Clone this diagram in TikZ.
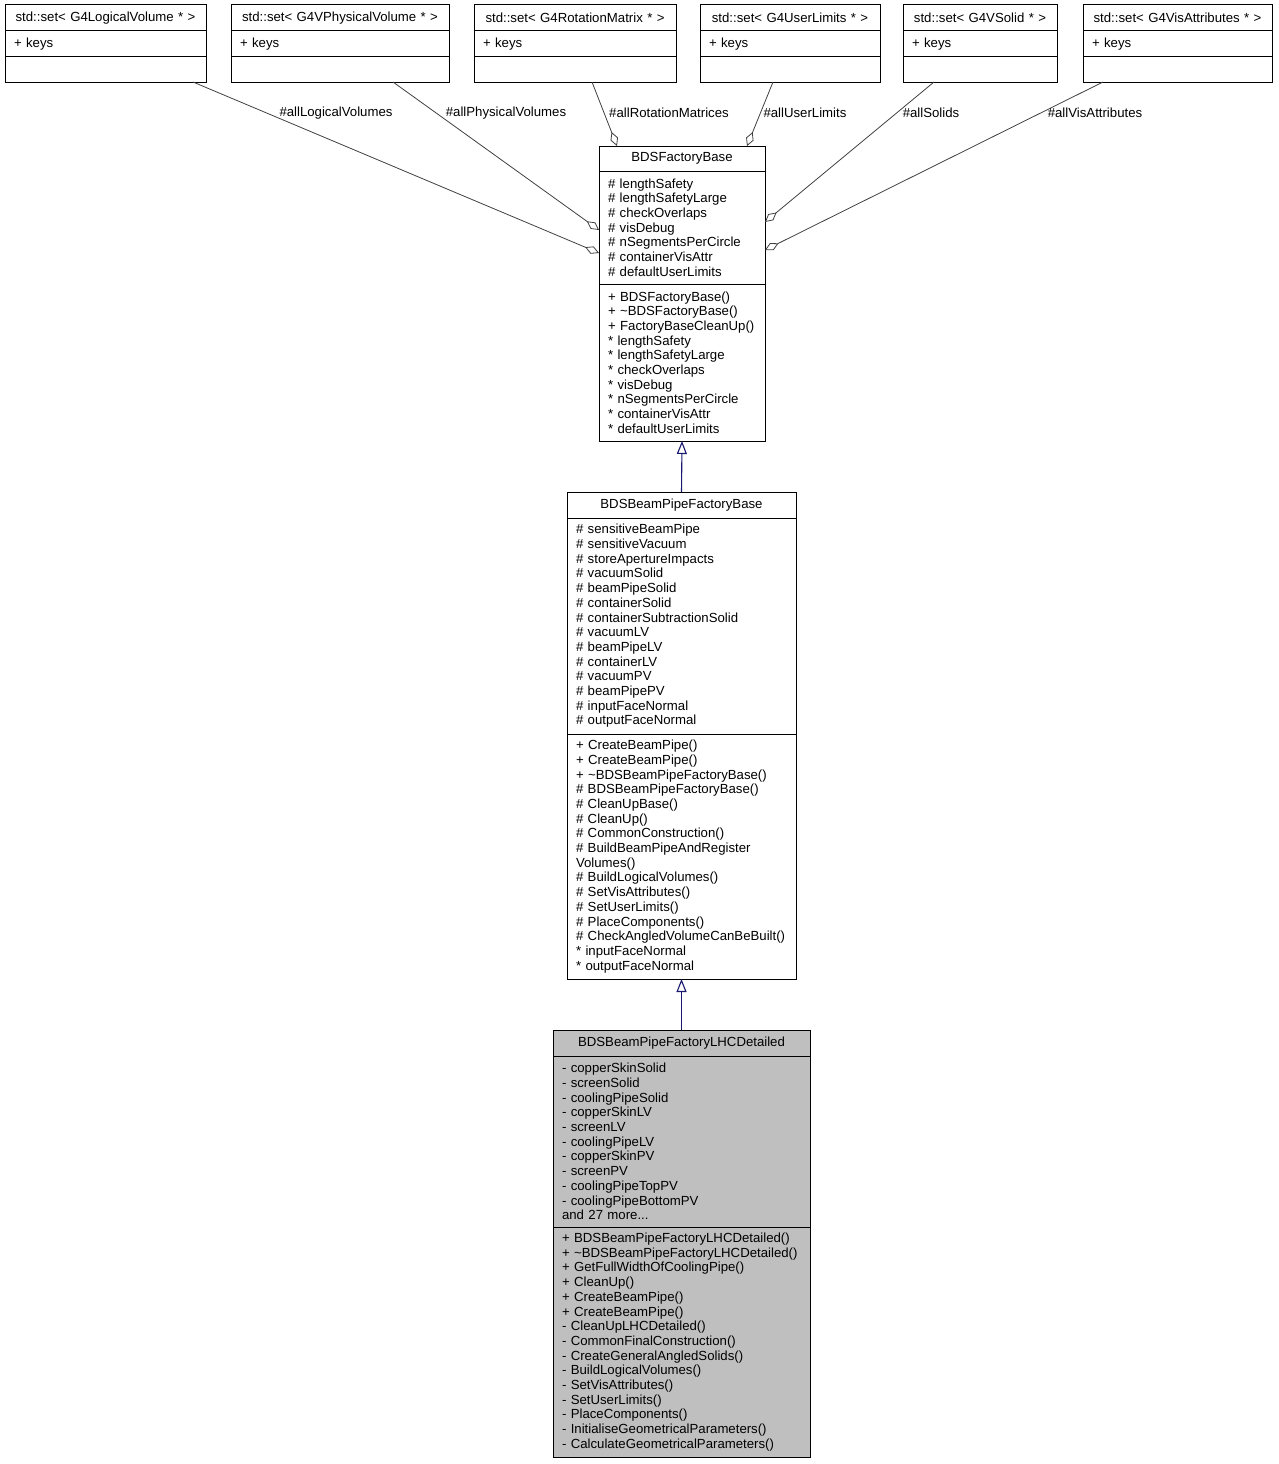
\documentclass[tikz,border=0pt]{standalone}
\usepackage{fontspec}
\setmainfont{Liberation Sans}
\usetikzlibrary{positioning,arrows.meta}

\definecolor{edgegrey}{HTML}{404040}
\definecolor{inheritblue}{HTML}{191970}
\definecolor{focusgrey}{HTML}{BFBFBF}
\hyphenpenalty=10000
\exhyphenpenalty=10000

\begin{document}
\begin{tikzpicture}[x=1pt, y=1pt,
    umlfont/.style={font=\fontsize{13.2}{14.7}\selectfont},
    classhead/.style={umlfont, draw=black, line width=1pt, outer sep=0pt, inner xsep=9pt, inner ysep=0pt, align=center, anchor=north west},
    classpart/.style={umlfont, draw=black, line width=1pt, outer sep=0pt, inner xsep=9pt, inner ysep=0pt, align=left},
    aggr/.style={draw=edgegrey, line width=0.8pt, -{Diamond[open, length=15pt, width=8pt]}},
    inherit/.style={draw=inheritblue, line width=1.1pt, -{Triangle[open, length=13pt, width=10pt]}},
    rolelabel/.style={umlfont, inner sep=0pt}]
    \useasboundingbox (0,0) rectangle (1279,-1464);

    % Top row of std::set containers
    \node[classhead, text width=183pt, minimum height=26pt] (lvhead) at (5,-5) {std::set< G4LogicalVolume * >};
    \node[classpart, text width=183pt, minimum height=26pt, below=0pt of lvhead] (lvkeys) {+ keys};
    \node[classpart, text width=183pt, minimum height=25pt, below=0pt of lvkeys] (lvempty) {};

    \node[classhead, text width=200pt, minimum height=26pt] (pvhead) at (231,-5) {std::set< G4VPhysicalVolume * >};
    \node[classpart, text width=200pt, minimum height=26pt, below=0pt of pvhead] (pvkeys) {+ keys};
    \node[classpart, text width=200pt, minimum height=25pt, below=0pt of pvkeys] (pvempty) {};

    \node[classhead, text width=184pt, minimum height=26pt] (rmhead) at (474,-5) {std::set< G4RotationMatrix * >};
    \node[classpart, text width=184pt, minimum height=26pt, below=0pt of rmhead] (rmkeys) {+ keys};
    \node[classpart, text width=184pt, minimum height=25pt, below=0pt of rmkeys] (rmempty) {};

    \node[classhead, text width=162pt, minimum height=26pt] (ulhead) at (700,-5) {std::set< G4UserLimits * >};
    \node[classpart, text width=162pt, minimum height=26pt, below=0pt of ulhead] (ulkeys) {+ keys};
    \node[classpart, text width=162pt, minimum height=25pt, below=0pt of ulkeys] (ulempty) {};

    \node[classhead, text width=136pt, minimum height=26pt] (sohead) at (903,-5) {std::set< G4VSolid * >};
    \node[classpart, text width=136pt, minimum height=26pt, below=0pt of sohead] (sokeys) {+ keys};
    \node[classpart, text width=136pt, minimum height=25pt, below=0pt of sokeys] (soempty) {};

    \node[classhead, text width=171pt, minimum height=26pt] (vahead) at (1083,-5) {std::set< G4VisAttributes * >};
    \node[classpart, text width=171pt, minimum height=26pt, below=0pt of vahead] (vakeys) {+ keys};
    \node[classpart, text width=171pt, minimum height=25pt, below=0pt of vakeys] (vaempty) {};

    % BDSFactoryBase
    \node[classhead, text width=148pt, minimum height=25pt] (fbhead) at (599,-146) {BDSFactoryBase};
    \node[classpart, text width=148pt, minimum height=113pt, below=0pt of fbhead] (fbattr) {%
        \# lengthSafety\\ \# lengthSafetyLarge\\ \# checkOverlaps\\ \# visDebug\\
        \# nSegmentsPerCircle\\ \# containerVisAttr\\ \# defaultUserLimits};
    \node[classpart, text width=148pt, minimum height=157pt, below=0pt of fbattr] (fbmeth) {%
        + BDSFactoryBase()\\ + \textasciitilde BDSFactoryBase()\\ + FactoryBaseCleanUp()\\
        {*} lengthSafety\\ {*} lengthSafetyLarge\\ {*} checkOverlaps\\ {*} visDebug\\
        {*} nSegmentsPerCircle\\ {*} containerVisAttr\\ {*} defaultUserLimits};

    % BDSBeamPipeFactoryBase
    \node[classhead, text width=211pt, minimum height=26pt] (bpbhead) at (567,-492) {BDSBeamPipeFactoryBase};
    \node[classpart, text width=211pt, minimum height=216pt, below=0pt of bpbhead] (bpbattr) {%
        \# sensitiveBeamPipe\\ \# sensitiveVacuum\\ \# storeApertureImpacts\\ \# vacuumSolid\\
        \# beamPipeSolid\\ \# containerSolid\\ \# containerSubtractionSolid\\ \# vacuumLV\\
        \# beamPipeLV\\ \# containerLV\\ \# vacuumPV\\ \# beamPipePV\\
        \# inputFaceNormal\\ \# outputFaceNormal};
    \node[classpart, text width=211pt, minimum height=245pt, below=0pt of bpbattr] (bpbmeth) {%
        + CreateBeamPipe()\\ + CreateBeamPipe()\\ + \textasciitilde BDSBeamPipeFactoryBase()\\
        \# BDSBeamPipeFactoryBase()\\ \# CleanUpBase()\\ \# CleanUp()\\ \# CommonConstruction()\\
        \# BuildBeamPipeAndRegister\\ Volumes()\\ \# BuildLogicalVolumes()\\ \# SetVisAttributes()\\
        \# SetUserLimits()\\ \# PlaceComponents()\\ \# CheckAngledVolumeCanBeBuilt()\\
        {*} inputFaceNormal\\ {*} outputFaceNormal};

    % BDSBeamPipeFactoryLHCDetailed
    \node[classhead, fill=focusgrey, text width=239pt, minimum height=26pt] (lhchead) at (553,-1030) {BDSBeamPipeFactoryLHCDetailed};
    \node[classpart, fill=focusgrey, text width=239pt, minimum height=171pt, below=0pt of lhchead] (lhcattr) {%
        - copperSkinSolid\\ - screenSolid\\ - coolingPipeSolid\\ - copperSkinLV\\ - screenLV\\
        - coolingPipeLV\\ - copperSkinPV\\ - screenPV\\ - coolingPipeTopPV\\
        - coolingPipeBottomPV\\ and 27 more...};
    \node[classpart, fill=focusgrey, text width=239pt, minimum height=230pt, below=0pt of lhcattr] (lhcmeth) {%
        + BDSBeamPipeFactoryLHCDetailed()\\ + \textasciitilde BDSBeamPipeFactoryLHCDetailed()\\
        + GetFullWidthOfCoolingPipe()\\ + CleanUp()\\ + CreateBeamPipe()\\ + CreateBeamPipe()\\
        - CleanUpLHCDetailed()\\ - CommonFinalConstruction()\\ - CreateGeneralAngledSolids()\\
        - BuildLogicalVolumes()\\ - SetVisAttributes()\\ - SetUserLimits()\\ - PlaceComponents()\\
        - InitialiseGeometricalParameters()\\ - CalculateGeometricalParameters()};

    % Aggregations
    \draw[aggr] ([xshift=188pt]lvempty.south west) -- ([yshift=-25.5pt]fbattr.west);
    \draw[aggr] ([xshift=162pt]pvempty.south west) -- ([yshift=-2.5pt]fbattr.west);
    \draw[aggr] ([xshift=118pt]rmempty.south west) -- ([xshift=-65pt]fbhead.north);
    \draw[aggr] ([xshift=73pt]ulempty.south west) -- ([xshift=65pt]fbhead.north);
    \draw[aggr] ([xshift=31pt]soempty.south west) -- ([yshift=5.5pt]fbattr.east);
    \draw[aggr] ([xshift=20pt]vaempty.south west) -- ([yshift=-22.5pt]fbattr.east);

    % Role labels
    \node[rolelabel] (lvrole) at (336,-113) {\#allLogicalVolumes};
    \node[rolelabel] (pvrole) at (506,-113) {\#allPhysicalVolumes};
    \node[rolelabel] (rmrole) at (669,-113) {\#allRotationMatrices};
    \node[rolelabel] (ulrole) at (805,-113) {\#allUserLimits};
    \node[rolelabel] (sorole) at (931,-113) {\#allSolids};
    \node[rolelabel] (varole) at (1095,-113) {\#allVisAttributes};

    % Inheritance
    \draw[inherit] (bpbhead.north) -- (fbmeth.south);
    \draw[inherit] (lhchead.north) -- (bpbmeth.south);
\end{tikzpicture}
\end{document}
